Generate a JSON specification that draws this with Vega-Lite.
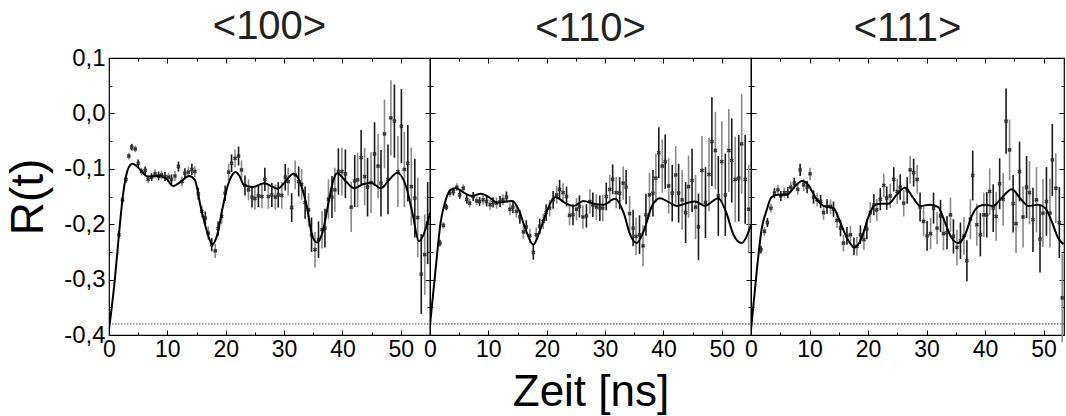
{
"$schema": "https://vega.github.io/schema/vega-lite/v6.json",
"padding": {"left": 5, "top": 6, "right": 0, "bottom": 0},
"background": "white",
"config": {
  "font": "Liberation Sans",
  "view": {"stroke": "#000", "strokeWidth": 1.2},
  "title": {"fontSize": 40, "fontWeight": "normal", "color": "#222", "offset": 10, "anchor": "middle"},
  "axis": {"labelColor": "#000", "tickColor": "#000", "tickWidth": 1, "titleColor": "#000", "titleFontWeight": "normal", "grid": false, "domain": false, "ticks": true, "labelOverlap": false, "labelFlush": false, "labelBound": false, "labelFontSize": 23}
},
"datasets": {
"ref": [{"p": 0, "r": -0.38}],
"pts": [
{"p":1,"t":1.7,"r":-0.219,"e":0.006,"c":0},{"p":1,"t":2.3,"r":-0.156,"e":0.006,"c":1},{"p":1,"t":2.9,"r":-0.119,"e":0.006,"c":0},{"p":1,"t":3.4,"r":-0.077,"e":0.006,"c":1},{"p":1,"t":3.9,"r":-0.061,"e":0.006,"c":0},{"p":1,"t":4.5,"r":-0.064,"e":0.006,"c":1},{"p":1,"t":5.0,"r":-0.090,"e":0.007,"c":0},{"p":1,"t":5.6,"r":-0.105,"e":0.007,"c":1},{"p":1,"t":6.2,"r":-0.103,"e":0.007,"c":0},{"p":1,"t":6.7,"r":-0.119,"e":0.007,"c":1},{"p":1,"t":7.3,"r":-0.115,"e":0.007,"c":0},{"p":1,"t":7.9,"r":-0.109,"e":0.008,"c":1},{"p":1,"t":8.5,"r":-0.113,"e":0.008,"c":0},{"p":1,"t":9.0,"r":-0.111,"e":0.008,"c":1},{"p":1,"t":9.6,"r":-0.114,"e":0.008,"c":0},{"p":1,"t":10.2,"r":-0.115,"e":0.008,"c":1},{"p":1,"t":10.7,"r":-0.119,"e":0.009,"c":0},{"p":1,"t":11.3,"r":-0.113,"e":0.009,"c":1},{"p":1,"t":11.9,"r":-0.096,"e":0.009,"c":0},{"p":1,"t":12.5,"r":-0.123,"e":0.009,"c":1},{"p":1,"t":13.0,"r":-0.108,"e":0.009,"c":0},{"p":1,"t":13.6,"r":-0.106,"e":0.010,"c":1},{"p":1,"t":14.2,"r":-0.101,"e":0.010,"c":0},{"p":1,"t":14.7,"r":-0.105,"e":0.010,"c":1},{"p":1,"t":15.3,"r":-0.145,"e":0.011,"c":0},{"p":1,"t":15.9,"r":-0.177,"e":0.011,"c":1},{"p":1,"t":16.5,"r":-0.189,"e":0.012,"c":0},{"p":1,"t":17.0,"r":-0.216,"e":0.012,"c":1},{"p":1,"t":17.6,"r":-0.237,"e":0.012,"c":0},{"p":1,"t":18.2,"r":-0.248,"e":0.013,"c":1},{"p":1,"t":18.7,"r":-0.208,"e":0.013,"c":0},{"p":1,"t":19.3,"r":-0.186,"e":0.014,"c":1},{"p":1,"t":19.9,"r":-0.144,"e":0.014,"c":0},{"p":1,"t":20.5,"r":-0.106,"e":0.015,"c":1},{"p":1,"t":21.0,"r":-0.090,"e":0.016,"c":0},{"p":1,"t":21.6,"r":-0.081,"e":0.016,"c":1},{"p":1,"t":22.2,"r":-0.077,"e":0.017,"c":0},{"p":1,"t":22.7,"r":-0.102,"e":0.017,"c":1},{"p":1,"t":23.3,"r":-0.130,"e":0.018,"c":0},{"p":1,"t":23.9,"r":-0.138,"e":0.019,"c":1},{"p":1,"t":24.5,"r":-0.151,"e":0.019,"c":0},{"p":1,"t":25.0,"r":-0.154,"e":0.020,"c":1},{"p":1,"t":25.6,"r":-0.149,"e":0.020,"c":0},{"p":1,"t":26.2,"r":-0.150,"e":0.021,"c":1},{"p":1,"t":26.7,"r":-0.119,"e":0.021,"c":0},{"p":1,"t":27.3,"r":-0.150,"e":0.022,"c":1},{"p":1,"t":27.9,"r":-0.147,"e":0.022,"c":0},{"p":1,"t":28.5,"r":-0.151,"e":0.023,"c":1},{"p":1,"t":29.0,"r":-0.147,"e":0.023,"c":0},{"p":1,"t":29.6,"r":-0.148,"e":0.024,"c":1},{"p":1,"t":30.2,"r":-0.115,"e":0.024,"c":0},{"p":1,"t":30.7,"r":-0.123,"e":0.025,"c":1},{"p":1,"t":31.3,"r":-0.170,"e":0.026,"c":0},{"p":1,"t":31.9,"r":-0.111,"e":0.026,"c":1},{"p":1,"t":32.5,"r":-0.123,"e":0.027,"c":0},{"p":1,"t":33.0,"r":-0.128,"e":0.028,"c":1},{"p":1,"t":33.6,"r":-0.161,"e":0.029,"c":0},{"p":1,"t":34.2,"r":-0.174,"e":0.030,"c":1},{"p":1,"t":34.7,"r":-0.219,"e":0.031,"c":0},{"p":1,"t":35.3,"r":-0.246,"e":0.032,"c":1},{"p":1,"t":35.9,"r":-0.228,"e":0.033,"c":0},{"p":1,"t":36.5,"r":-0.210,"e":0.034,"c":1},{"p":1,"t":37.0,"r":-0.207,"e":0.035,"c":0},{"p":1,"t":37.6,"r":-0.155,"e":0.036,"c":1},{"p":1,"t":38.2,"r":-0.151,"e":0.038,"c":0},{"p":1,"t":38.7,"r":-0.138,"e":0.040,"c":1},{"p":1,"t":39.3,"r":-0.105,"e":0.042,"c":0},{"p":1,"t":39.9,"r":-0.105,"e":0.043,"c":1},{"p":1,"t":40.5,"r":-0.109,"e":0.044,"c":0},{"p":1,"t":41.5,"r":-0.169,"e":0.045,"c":1},{"p":1,"t":42.1,"r":-0.122,"e":0.047,"c":0},{"p":1,"t":42.6,"r":-0.120,"e":0.049,"c":1},{"p":1,"t":43.2,"r":-0.080,"e":0.050,"c":0},{"p":1,"t":43.8,"r":-0.114,"e":0.052,"c":1},{"p":1,"t":44.3,"r":-0.133,"e":0.053,"c":0},{"p":1,"t":44.9,"r":-0.125,"e":0.055,"c":1},{"p":1,"t":45.5,"r":-0.073,"e":0.057,"c":0},{"p":1,"t":46.1,"r":-0.095,"e":0.058,"c":1},{"p":1,"t":46.6,"r":-0.126,"e":0.060,"c":0},{"p":1,"t":47.2,"r":-0.037,"e":0.062,"c":1},{"p":1,"t":47.8,"r":-0.119,"e":0.063,"c":0},{"p":1,"t":48.3,"r":-0.008,"e":0.068,"c":1},{"p":1,"t":48.9,"r":-0.014,"e":0.066,"c":0},{"p":1,"t":49.5,"r":-0.105,"e":0.064,"c":1},{"p":1,"t":50.1,"r":-0.023,"e":0.067,"c":0},{"p":1,"t":50.6,"r":-0.101,"e":0.068,"c":1},{"p":1,"t":51.2,"r":-0.090,"e":0.069,"c":0},{"p":1,"t":51.8,"r":-0.132,"e":0.070,"c":1},{"p":1,"t":52.4,"r":-0.153,"e":0.071,"c":0},{"p":1,"t":52.9,"r":-0.188,"e":0.072,"c":1},{"p":1,"t":53.5,"r":-0.290,"e":0.072,"c":0},{"p":1,"t":54.1,"r":-0.255,"e":0.073,"c":1},{"p":1,"t":54.6,"r":-0.198,"e":0.074,"c":0},
{"p":2,"t":1.7,"r":-0.234,"e":0.006,"c":0},{"p":2,"t":2.3,"r":-0.202,"e":0.006,"c":1},{"p":2,"t":2.8,"r":-0.169,"e":0.006,"c":0},{"p":2,"t":3.4,"r":-0.144,"e":0.007,"c":1},{"p":2,"t":4.0,"r":-0.141,"e":0.007,"c":0},{"p":2,"t":4.6,"r":-0.133,"e":0.007,"c":1},{"p":2,"t":5.1,"r":-0.147,"e":0.007,"c":0},{"p":2,"t":5.7,"r":-0.135,"e":0.007,"c":1},{"p":2,"t":6.3,"r":-0.155,"e":0.008,"c":0},{"p":2,"t":6.8,"r":-0.162,"e":0.008,"c":1},{"p":2,"t":7.4,"r":-0.150,"e":0.008,"c":0},{"p":2,"t":8.0,"r":-0.158,"e":0.008,"c":1},{"p":2,"t":8.5,"r":-0.159,"e":0.008,"c":0},{"p":2,"t":9.1,"r":-0.156,"e":0.009,"c":1},{"p":2,"t":9.7,"r":-0.159,"e":0.009,"c":0},{"p":2,"t":10.3,"r":-0.165,"e":0.009,"c":1},{"p":2,"t":10.8,"r":-0.161,"e":0.009,"c":0},{"p":2,"t":11.4,"r":-0.162,"e":0.010,"c":1},{"p":2,"t":12.0,"r":-0.159,"e":0.010,"c":0},{"p":2,"t":12.5,"r":-0.156,"e":0.010,"c":1},{"p":2,"t":13.1,"r":-0.151,"e":0.010,"c":0},{"p":2,"t":13.7,"r":-0.173,"e":0.011,"c":1},{"p":2,"t":14.2,"r":-0.169,"e":0.011,"c":0},{"p":2,"t":14.8,"r":-0.177,"e":0.011,"c":1},{"p":2,"t":15.4,"r":-0.187,"e":0.012,"c":0},{"p":2,"t":16.0,"r":-0.214,"e":0.012,"c":1},{"p":2,"t":16.5,"r":-0.205,"e":0.012,"c":0},{"p":2,"t":17.1,"r":-0.221,"e":0.013,"c":1},{"p":2,"t":17.7,"r":-0.251,"e":0.013,"c":0},{"p":2,"t":18.2,"r":-0.219,"e":0.013,"c":1},{"p":2,"t":18.8,"r":-0.204,"e":0.014,"c":0},{"p":2,"t":19.4,"r":-0.195,"e":0.014,"c":1},{"p":2,"t":19.9,"r":-0.179,"e":0.015,"c":0},{"p":2,"t":20.5,"r":-0.171,"e":0.015,"c":1},{"p":2,"t":21.1,"r":-0.156,"e":0.016,"c":0},{"p":2,"t":21.7,"r":-0.147,"e":0.016,"c":1},{"p":2,"t":22.2,"r":-0.137,"e":0.017,"c":0},{"p":2,"t":22.8,"r":-0.143,"e":0.017,"c":1},{"p":2,"t":23.4,"r":-0.150,"e":0.018,"c":0},{"p":2,"t":23.9,"r":-0.184,"e":0.018,"c":1},{"p":2,"t":24.5,"r":-0.183,"e":0.019,"c":0},{"p":2,"t":25.1,"r":-0.173,"e":0.020,"c":1},{"p":2,"t":25.6,"r":-0.168,"e":0.020,"c":0},{"p":2,"t":26.2,"r":-0.187,"e":0.021,"c":1},{"p":2,"t":26.8,"r":-0.185,"e":0.021,"c":0},{"p":2,"t":27.4,"r":-0.159,"e":0.022,"c":1},{"p":2,"t":27.9,"r":-0.165,"e":0.022,"c":0},{"p":2,"t":28.5,"r":-0.169,"e":0.023,"c":1},{"p":2,"t":29.1,"r":-0.171,"e":0.023,"c":0},{"p":2,"t":29.6,"r":-0.171,"e":0.024,"c":1},{"p":2,"t":30.2,"r":-0.150,"e":0.025,"c":0},{"p":2,"t":30.8,"r":-0.137,"e":0.026,"c":1},{"p":2,"t":31.3,"r":-0.119,"e":0.027,"c":0},{"p":2,"t":31.9,"r":-0.143,"e":0.028,"c":1},{"p":2,"t":32.5,"r":-0.144,"e":0.029,"c":0},{"p":2,"t":33.1,"r":-0.126,"e":0.030,"c":1},{"p":2,"t":33.6,"r":-0.133,"e":0.031,"c":0},{"p":2,"t":34.2,"r":-0.181,"e":0.032,"c":1},{"p":2,"t":34.8,"r":-0.207,"e":0.033,"c":0},{"p":2,"t":35.3,"r":-0.222,"e":0.034,"c":1},{"p":2,"t":35.9,"r":-0.219,"e":0.035,"c":0},{"p":2,"t":36.5,"r":-0.239,"e":0.037,"c":1},{"p":2,"t":37.0,"r":-0.183,"e":0.038,"c":0},{"p":2,"t":37.6,"r":-0.147,"e":0.040,"c":1},{"p":2,"t":38.2,"r":-0.144,"e":0.042,"c":0},{"p":2,"t":38.7,"r":-0.117,"e":0.044,"c":1},{"p":2,"t":39.2,"r":-0.071,"e":0.046,"c":0},{"p":2,"t":39.8,"r":-0.095,"e":0.048,"c":1},{"p":2,"t":40.3,"r":-0.087,"e":0.049,"c":0},{"p":2,"t":40.9,"r":-0.131,"e":0.050,"c":1},{"p":2,"t":41.5,"r":-0.144,"e":0.051,"c":0},{"p":2,"t":42.1,"r":-0.111,"e":0.052,"c":1},{"p":2,"t":42.6,"r":-0.144,"e":0.053,"c":0},{"p":2,"t":43.2,"r":-0.156,"e":0.054,"c":1},{"p":2,"t":43.8,"r":-0.179,"e":0.055,"c":0},{"p":2,"t":44.3,"r":-0.132,"e":0.056,"c":1},{"p":2,"t":44.9,"r":-0.121,"e":0.057,"c":0},{"p":2,"t":45.5,"r":-0.169,"e":0.058,"c":1},{"p":2,"t":46.0,"r":-0.205,"e":0.060,"c":0},{"p":2,"t":46.6,"r":-0.103,"e":0.062,"c":1},{"p":2,"t":47.2,"r":-0.161,"e":0.064,"c":0},{"p":2,"t":47.8,"r":-0.110,"e":0.066,"c":1},{"p":2,"t":48.3,"r":-0.051,"e":0.080,"c":0},{"p":2,"t":48.9,"r":-0.067,"e":0.070,"c":1},{"p":2,"t":49.4,"r":-0.149,"e":0.072,"c":0},{"p":2,"t":50.0,"r":-0.087,"e":0.073,"c":1},{"p":2,"t":50.6,"r":-0.147,"e":0.074,"c":0},{"p":2,"t":51.2,"r":-0.067,"e":0.075,"c":1},{"p":2,"t":51.7,"r":-0.085,"e":0.076,"c":0},{"p":2,"t":52.3,"r":-0.119,"e":0.077,"c":1},{"p":2,"t":52.9,"r":-0.117,"e":0.078,"c":0},{"p":2,"t":53.4,"r":-0.055,"e":0.090,"c":1},{"p":2,"t":54.0,"r":-0.119,"e":0.080,"c":0},{"p":2,"t":54.6,"r":-0.173,"e":0.080,"c":1},
{"p":3,"t":1.7,"r":-0.246,"e":0.007,"c":0},{"p":3,"t":2.3,"r":-0.213,"e":0.008,"c":1},{"p":3,"t":2.8,"r":-0.197,"e":0.008,"c":0},{"p":3,"t":3.4,"r":-0.171,"e":0.008,"c":1},{"p":3,"t":4.0,"r":-0.144,"e":0.009,"c":0},{"p":3,"t":4.6,"r":-0.138,"e":0.009,"c":1},{"p":3,"t":5.1,"r":-0.149,"e":0.009,"c":0},{"p":3,"t":5.7,"r":-0.143,"e":0.009,"c":1},{"p":3,"t":6.3,"r":-0.143,"e":0.010,"c":0},{"p":3,"t":6.8,"r":-0.133,"e":0.010,"c":1},{"p":3,"t":7.4,"r":-0.126,"e":0.010,"c":0},{"p":3,"t":8.0,"r":-0.137,"e":0.010,"c":1},{"p":3,"t":8.4,"r":-0.102,"e":0.011,"c":0},{"p":3,"t":9.0,"r":-0.129,"e":0.011,"c":1},{"p":3,"t":9.6,"r":-0.133,"e":0.011,"c":0},{"p":3,"t":10.1,"r":-0.109,"e":0.011,"c":1},{"p":3,"t":10.7,"r":-0.151,"e":0.012,"c":0},{"p":3,"t":11.3,"r":-0.156,"e":0.012,"c":1},{"p":3,"t":11.9,"r":-0.159,"e":0.012,"c":0},{"p":3,"t":12.4,"r":-0.179,"e":0.013,"c":1},{"p":3,"t":13.0,"r":-0.168,"e":0.013,"c":0},{"p":3,"t":13.6,"r":-0.168,"e":0.013,"c":1},{"p":3,"t":14.1,"r":-0.173,"e":0.014,"c":0},{"p":3,"t":14.7,"r":-0.193,"e":0.014,"c":1},{"p":3,"t":15.3,"r":-0.207,"e":0.015,"c":0},{"p":3,"t":15.8,"r":-0.234,"e":0.015,"c":1},{"p":3,"t":16.4,"r":-0.221,"e":0.016,"c":0},{"p":3,"t":17.0,"r":-0.219,"e":0.016,"c":1},{"p":3,"t":17.6,"r":-0.240,"e":0.016,"c":0},{"p":3,"t":18.1,"r":-0.240,"e":0.017,"c":1},{"p":3,"t":18.7,"r":-0.219,"e":0.017,"c":0},{"p":3,"t":19.3,"r":-0.228,"e":0.018,"c":1},{"p":3,"t":19.8,"r":-0.209,"e":0.018,"c":0},{"p":3,"t":20.4,"r":-0.179,"e":0.019,"c":1},{"p":3,"t":21.0,"r":-0.165,"e":0.019,"c":0},{"p":3,"t":21.5,"r":-0.174,"e":0.020,"c":1},{"p":3,"t":22.1,"r":-0.155,"e":0.020,"c":0},{"p":3,"t":22.7,"r":-0.130,"e":0.021,"c":1},{"p":3,"t":23.2,"r":-0.153,"e":0.021,"c":0},{"p":3,"t":23.8,"r":-0.149,"e":0.022,"c":1},{"p":3,"t":24.4,"r":-0.119,"e":0.022,"c":0},{"p":3,"t":25.0,"r":-0.141,"e":0.023,"c":1},{"p":3,"t":25.5,"r":-0.133,"e":0.023,"c":0},{"p":3,"t":26.1,"r":-0.162,"e":0.024,"c":1},{"p":3,"t":26.7,"r":-0.139,"e":0.024,"c":0},{"p":3,"t":27.2,"r":-0.102,"e":0.025,"c":1},{"p":3,"t":27.8,"r":-0.107,"e":0.025,"c":0},{"p":3,"t":28.4,"r":-0.119,"e":0.026,"c":1},{"p":3,"t":28.9,"r":-0.169,"e":0.026,"c":0},{"p":3,"t":29.5,"r":-0.195,"e":0.027,"c":1},{"p":3,"t":30.1,"r":-0.221,"e":0.027,"c":0},{"p":3,"t":30.7,"r":-0.217,"e":0.028,"c":1},{"p":3,"t":31.2,"r":-0.171,"e":0.028,"c":0},{"p":3,"t":31.8,"r":-0.207,"e":0.029,"c":1},{"p":3,"t":32.4,"r":-0.185,"e":0.029,"c":0},{"p":3,"t":32.9,"r":-0.217,"e":0.030,"c":1},{"p":3,"t":33.5,"r":-0.215,"e":0.030,"c":0},{"p":3,"t":34.1,"r":-0.183,"e":0.031,"c":1},{"p":3,"t":34.6,"r":-0.222,"e":0.031,"c":0},{"p":3,"t":35.2,"r":-0.242,"e":0.032,"c":1},{"p":3,"t":35.8,"r":-0.230,"e":0.033,"c":0},{"p":3,"t":36.4,"r":-0.221,"e":0.034,"c":1},{"p":3,"t":36.9,"r":-0.266,"e":0.037,"c":0},{"p":3,"t":37.5,"r":-0.191,"e":0.036,"c":1},{"p":3,"t":37.9,"r":-0.112,"e":0.045,"c":0},{"p":3,"t":38.6,"r":-0.201,"e":0.038,"c":1},{"p":3,"t":39.2,"r":-0.219,"e":0.039,"c":0},{"p":3,"t":39.8,"r":-0.183,"e":0.040,"c":1},{"p":3,"t":40.3,"r":-0.183,"e":0.041,"c":0},{"p":3,"t":40.8,"r":-0.141,"e":0.042,"c":1},{"p":3,"t":41.4,"r":-0.171,"e":0.043,"c":0},{"p":3,"t":41.9,"r":-0.186,"e":0.044,"c":1},{"p":3,"t":42.5,"r":-0.127,"e":0.046,"c":0},{"p":3,"t":43.1,"r":-0.155,"e":0.048,"c":1},{"p":3,"t":43.6,"r":-0.014,"e":0.059,"c":0},{"p":3,"t":44.2,"r":-0.066,"e":0.055,"c":1},{"p":3,"t":44.8,"r":-0.163,"e":0.052,"c":0},{"p":3,"t":45.3,"r":-0.199,"e":0.053,"c":1},{"p":3,"t":45.9,"r":-0.105,"e":0.054,"c":0},{"p":3,"t":46.5,"r":-0.187,"e":0.055,"c":1},{"p":3,"t":47.1,"r":-0.133,"e":0.056,"c":0},{"p":3,"t":47.6,"r":-0.143,"e":0.057,"c":1},{"p":3,"t":48.2,"r":-0.192,"e":0.058,"c":0},{"p":3,"t":48.8,"r":-0.156,"e":0.059,"c":1},{"p":3,"t":49.4,"r":-0.227,"e":0.060,"c":0},{"p":3,"t":49.9,"r":-0.180,"e":0.061,"c":1},{"p":3,"t":50.5,"r":-0.159,"e":0.062,"c":0},{"p":3,"t":51.1,"r":-0.180,"e":0.062,"c":1},{"p":3,"t":51.5,"r":-0.084,"e":0.065,"c":0},{"p":3,"t":52.1,"r":-0.135,"e":0.063,"c":1},{"p":3,"t":52.7,"r":-0.197,"e":0.064,"c":0},{"p":3,"t":53.2,"r":-0.333,"e":0.080,"c":1}
],
"fit": [
{"p":1,"t":0,"r":-0.39},{"p":1,"t":1.0,"r":-0.30},{"p":1,"t":1.7,"r":-0.219},{"p":1,"t":2.3,"r":-0.156},{"p":1,"t":2.9,"r":-0.114},{"p":1,"t":3.4,"r":-0.097},{"p":1,"t":4.0,"r":-0.091},{"p":1,"t":4.6,"r":-0.094},{"p":1,"t":5.4,"r":-0.102},{"p":1,"t":6.6,"r":-0.114},{"p":1,"t":8.3,"r":-0.113},{"p":1,"t":9.7,"r":-0.117},{"p":1,"t":11.0,"r":-0.131},{"p":1,"t":12.3,"r":-0.123},{"p":1,"t":13.7,"r":-0.113},{"p":1,"t":14.7,"r":-0.120},{"p":1,"t":15.7,"r":-0.168},{"p":1,"t":16.7,"r":-0.210},{"p":1,"t":17.7,"r":-0.236},{"p":1,"t":18.6,"r":-0.217},{"p":1,"t":19.4,"r":-0.174},{"p":1,"t":20.3,"r":-0.132},{"p":1,"t":21.0,"r":-0.113},{"p":1,"t":21.7,"r":-0.106},{"p":1,"t":22.4,"r":-0.114},{"p":1,"t":23.1,"r":-0.129},{"p":1,"t":24.6,"r":-0.133},{"p":1,"t":26.6,"r":-0.126},{"p":1,"t":28.9,"r":-0.136},{"p":1,"t":30.0,"r":-0.126},{"p":1,"t":31.6,"r":-0.109},{"p":1,"t":32.9,"r":-0.129},{"p":1,"t":34.0,"r":-0.174},{"p":1,"t":34.7,"r":-0.216},{"p":1,"t":35.6,"r":-0.233},{"p":1,"t":36.6,"r":-0.214},{"p":1,"t":37.7,"r":-0.156},{"p":1,"t":38.4,"r":-0.122},{"p":1,"t":39.1,"r":-0.108},{"p":1,"t":40.6,"r":-0.123},{"p":1,"t":42.0,"r":-0.135},{"p":1,"t":43.5,"r":-0.128},{"p":1,"t":44.9,"r":-0.125},{"p":1,"t":46.6,"r":-0.135},{"p":1,"t":48.0,"r":-0.120},{"p":1,"t":49.4,"r":-0.107},{"p":1,"t":50.9,"r":-0.132},{"p":1,"t":52.0,"r":-0.180},{"p":1,"t":53.1,"r":-0.231},{"p":1,"t":54.0,"r":-0.216},{"p":1,"t":55.0,"r":-0.180},
{"p":2,"t":0,"r":-0.382},{"p":2,"t":1.0,"r":-0.277},{"p":2,"t":1.8,"r":-0.198},{"p":2,"t":2.7,"r":-0.156},{"p":2,"t":3.5,"r":-0.138},{"p":2,"t":4.4,"r":-0.135},{"p":2,"t":5.8,"r":-0.143},{"p":2,"t":7.2,"r":-0.149},{"p":2,"t":8.7,"r":-0.145},{"p":2,"t":10.1,"r":-0.151},{"p":2,"t":11.5,"r":-0.161},{"p":2,"t":12.6,"r":-0.160},{"p":2,"t":14.1,"r":-0.158},{"p":2,"t":15.2,"r":-0.174},{"p":2,"t":16.4,"r":-0.210},{"p":2,"t":17.7,"r":-0.237},{"p":2,"t":18.9,"r":-0.210},{"p":2,"t":20.1,"r":-0.174},{"p":2,"t":21.5,"r":-0.151},{"p":2,"t":22.9,"r":-0.160},{"p":2,"t":24.6,"r":-0.167},{"p":2,"t":26.3,"r":-0.158},{"p":2,"t":28.0,"r":-0.163},{"p":2,"t":29.7,"r":-0.165},{"p":2,"t":31.7,"r":-0.154},{"p":2,"t":33.2,"r":-0.180},{"p":2,"t":34.3,"r":-0.219},{"p":2,"t":35.4,"r":-0.234},{"p":2,"t":36.6,"r":-0.213},{"p":2,"t":38.0,"r":-0.168},{"p":2,"t":39.4,"r":-0.153},{"p":2,"t":40.9,"r":-0.160},{"p":2,"t":42.3,"r":-0.167},{"p":2,"t":44.0,"r":-0.162},{"p":2,"t":45.4,"r":-0.159},{"p":2,"t":47.1,"r":-0.167},{"p":2,"t":49.4,"r":-0.153},{"p":2,"t":50.8,"r":-0.180},{"p":2,"t":52.0,"r":-0.219},{"p":2,"t":53.4,"r":-0.234},{"p":2,"t":54.5,"r":-0.216},{"p":2,"t":55.0,"r":-0.201},
{"p":3,"t":0,"r":-0.391},{"p":3,"t":1.0,"r":-0.283},{"p":3,"t":1.8,"r":-0.210},{"p":3,"t":2.7,"r":-0.174},{"p":3,"t":3.5,"r":-0.151},{"p":3,"t":4.7,"r":-0.147},{"p":3,"t":6.1,"r":-0.147},{"p":3,"t":7.5,"r":-0.132},{"p":3,"t":8.7,"r":-0.122},{"p":3,"t":9.8,"r":-0.129},{"p":3,"t":10.9,"r":-0.150},{"p":3,"t":12.4,"r":-0.167},{"p":3,"t":14.1,"r":-0.171},{"p":3,"t":15.2,"r":-0.195},{"p":3,"t":16.4,"r":-0.225},{"p":3,"t":17.7,"r":-0.242},{"p":3,"t":18.9,"r":-0.225},{"p":3,"t":20.1,"r":-0.186},{"p":3,"t":21.2,"r":-0.165},{"p":3,"t":22.3,"r":-0.163},{"p":3,"t":23.5,"r":-0.163},{"p":3,"t":24.9,"r":-0.147},{"p":3,"t":26.3,"r":-0.134},{"p":3,"t":27.7,"r":-0.152},{"p":3,"t":28.9,"r":-0.167},{"p":3,"t":30.6,"r":-0.165},{"p":3,"t":32.0,"r":-0.169},{"p":3,"t":33.2,"r":-0.198},{"p":3,"t":34.3,"r":-0.225},{"p":3,"t":35.4,"r":-0.234},{"p":3,"t":36.6,"r":-0.219},{"p":3,"t":37.7,"r":-0.186},{"p":3,"t":38.9,"r":-0.168},{"p":3,"t":40.0,"r":-0.165},{"p":3,"t":41.4,"r":-0.167},{"p":3,"t":42.8,"r":-0.153},{"p":3,"t":44.6,"r":-0.137},{"p":3,"t":46.0,"r":-0.153},{"p":3,"t":47.4,"r":-0.167},{"p":3,"t":49.1,"r":-0.165},{"p":3,"t":50.3,"r":-0.171},{"p":3,"t":51.4,"r":-0.195},{"p":3,"t":52.5,"r":-0.225},{"p":3,"t":53.4,"r":-0.236}
]
},
"hconcat": [
{
 "width": 321, "height": 277,
 "title": {"text": "<100>", "dy": 11},
 "resolve": {"axis": {"x": "independent", "y": "independent"}},
 "layer": [
  {"data": {"name": "ref"}, "mark": {"type": "rule", "strokeDash": [1.5, 1.5], "color": "#555", "strokeWidth": 1},
   "encoding": {
     "y": {"field": "r", "type": "quantitative", "scale": {"domain": [-0.4, 0.1], "nice": false, "zero": false},
       "axis": {"orient": "left", "values": [-0.4,-0.3,-0.2,-0.1,0,0.1], "tickSize": -5,
         "labelExpr": "replace(replace(format(datum.value, '.1f'), '.', ','), '\u2212', '-')",
         "title": "R(t)", "titleFontSize": 46, "titlePadding": 11, "labelFontSize": 24, "labelPadding": 9}},
     "x": {"datum": 0, "type": "quantitative", "scale": {"domain": [0, 55], "nice": false, "zero": false},
       "axis": {"orient": "bottom", "values": [0,10,20,30,40,50], "tickSize": -5, "labelPadding": 8, "title": null}},
     "x2": {"datum": 55}}},
  {"data": {"name": "pts"}, "transform": [{"filter": "datum.p == 1"}],
   "mark": {"type": "errorbar", "ticks": false, "rule": {"strokeWidth": 1.6}},
   "encoding": {
     "x": {"field": "t", "type": "quantitative", "axis": {"orient": "top", "values": [0,10,20,30,40,50], "tickSize": -5, "labels": false, "title": null}},
     "y": {"field": "r", "type": "quantitative", "axis": {"orient": "right", "values": [-0.4,-0.3,-0.2,-0.1,0,0.1], "tickSize": -5, "labels": false, "title": null}},
     "yError": {"field": "e"},
     "color": {"field": "c", "type": "nominal", "scale": {"domain": [0, 1], "range": ["#1a1a1a", "#8a8a8a"]}, "legend": null}}},
  {"data": {"name": "pts"}, "transform": [{"filter": "datum.p == 1"}],
   "mark": {"type": "point", "shape": "cross", "angle": 45, "filled": true, "size": 18, "color": "#333", "opacity": 1},
   "encoding": {
     "x": {"field": "t", "type": "quantitative", "axis": {"orient": "top", "values": [5,15,25,35,45,55], "tickSize": -3, "labels": false, "title": null}},
     "y": {"field": "r", "type": "quantitative", "axis": {"orient": "right", "values": [-0.35,-0.25,-0.15,-0.05,0.05], "tickSize": -3, "labels": false, "title": null}}}},
  {"data": {"name": "fit"}, "transform": [{"filter": "datum.p == 1"}],
   "mark": {"type": "line", "color": "#000", "strokeWidth": 2, "interpolate": "monotone", "clip": true},
   "encoding": {
     "x": {"field": "t", "type": "quantitative", "axis": {"orient": "bottom", "values": [5,15,25,35,45,55], "tickSize": -3, "labels": false, "title": null}},
     "y": {"field": "r", "type": "quantitative", "axis": {"orient": "left", "values": [-0.35,-0.25,-0.15,-0.05,0.05], "tickSize": -3, "labels": false, "title": null}}}}
 ]
},
{
 "width": 321, "height": 277,
 "title": {"text": "<110>", "dy": 1},
 "resolve": {"axis": {"x": "independent", "y": "independent"}},
 "layer": [
  {"data": {"name": "ref"}, "mark": {"type": "rule", "strokeDash": [1.5, 1.5], "color": "#222", "strokeWidth": 1},
   "encoding": {
     "y": {"field": "r", "type": "quantitative", "scale": {"domain": [-0.4, 0.1], "nice": false, "zero": false},
       "axis": {"orient": "left", "values": [-0.4,-0.3,-0.2,-0.1,0,0.1], "tickSize": -5, "labels": false, "title": null}},
     "x": {"datum": 0, "type": "quantitative", "scale": {"domain": [0, 55], "nice": false, "zero": false},
       "axis": {"orient": "bottom", "values": [0,10,20,30,40,50], "tickSize": -5, "labelPadding": 8, "title": "Zeit [ns]", "titleFontSize": 44, "titlePadding": 9}},
     "x2": {"datum": 55}}},
  {"data": {"name": "pts"}, "transform": [{"filter": "datum.p == 2"}],
   "mark": {"type": "errorbar", "ticks": false, "rule": {"strokeWidth": 1.6}},
   "encoding": {
     "x": {"field": "t", "type": "quantitative", "axis": {"orient": "top", "values": [0,10,20,30,40,50], "tickSize": -5, "labels": false, "title": null}},
     "y": {"field": "r", "type": "quantitative", "axis": {"orient": "right", "values": [-0.4,-0.3,-0.2,-0.1,0,0.1], "tickSize": -5, "labels": false, "title": null}},
     "yError": {"field": "e"},
     "color": {"field": "c", "type": "nominal", "scale": {"domain": [0, 1], "range": ["#1a1a1a", "#8a8a8a"]}, "legend": null}}},
  {"data": {"name": "pts"}, "transform": [{"filter": "datum.p == 2"}],
   "mark": {"type": "point", "shape": "cross", "angle": 45, "filled": true, "size": 18, "color": "#333", "opacity": 1},
   "encoding": {
     "x": {"field": "t", "type": "quantitative", "axis": {"orient": "top", "values": [5,15,25,35,45,55], "tickSize": -3, "labels": false, "title": null}},
     "y": {"field": "r", "type": "quantitative", "axis": {"orient": "right", "values": [-0.35,-0.25,-0.15,-0.05,0.05], "tickSize": -3, "labels": false, "title": null}}}},
  {"data": {"name": "fit"}, "transform": [{"filter": "datum.p == 2"}],
   "mark": {"type": "line", "color": "#000", "strokeWidth": 2, "interpolate": "monotone", "clip": true},
   "encoding": {
     "x": {"field": "t", "type": "quantitative", "axis": {"orient": "bottom", "values": [5,15,25,35,45,55], "tickSize": -3, "labels": false, "title": null}},
     "y": {"field": "r", "type": "quantitative", "axis": {"orient": "left", "values": [-0.35,-0.25,-0.15,-0.05,0.05], "tickSize": -3, "labels": false, "title": null}}}}
 ]
},
{
 "width": 313, "height": 277,
 "title": {"text": "<111>", "dy": 1},
 "resolve": {"axis": {"x": "independent", "y": "independent"}},
 "layer": [
  {"data": {"name": "ref"}, "mark": {"type": "rule", "strokeDash": [1.5, 1.5], "color": "#222", "strokeWidth": 1},
   "encoding": {
     "y": {"field": "r", "type": "quantitative", "scale": {"domain": [-0.4, 0.1], "nice": false, "zero": false},
       "axis": {"orient": "left", "values": [-0.4,-0.3,-0.2,-0.1,0,0.1], "tickSize": -5, "labels": false, "title": null}},
     "x": {"datum": 0, "type": "quantitative", "scale": {"domain": [0, 53.5], "nice": false, "zero": false},
       "axis": {"orient": "bottom", "values": [0,10,20,30,40,50], "tickSize": -5, "labelPadding": 8, "title": null}},
     "x2": {"datum": 53.5}}},
  {"data": {"name": "pts"}, "transform": [{"filter": "datum.p == 3"}],
   "mark": {"type": "errorbar", "ticks": false, "rule": {"strokeWidth": 1.6}},
   "encoding": {
     "x": {"field": "t", "type": "quantitative", "axis": {"orient": "top", "values": [0,10,20,30,40,50], "tickSize": -5, "labels": false, "title": null}},
     "y": {"field": "r", "type": "quantitative", "axis": {"orient": "right", "values": [-0.4,-0.3,-0.2,-0.1,0,0.1], "tickSize": -5, "labels": false, "title": null}},
     "yError": {"field": "e"},
     "color": {"field": "c", "type": "nominal", "scale": {"domain": [0, 1], "range": ["#1a1a1a", "#8a8a8a"]}, "legend": null}}},
  {"data": {"name": "pts"}, "transform": [{"filter": "datum.p == 3"}],
   "mark": {"type": "point", "shape": "cross", "angle": 45, "filled": true, "size": 18, "color": "#333", "opacity": 1},
   "encoding": {
     "x": {"field": "t", "type": "quantitative", "axis": {"orient": "top", "values": [5,15,25,35,45], "tickSize": -3, "labels": false, "title": null}},
     "y": {"field": "r", "type": "quantitative", "axis": {"orient": "right", "values": [-0.35,-0.25,-0.15,-0.05,0.05], "tickSize": -3, "labels": false, "title": null}}}},
  {"data": {"name": "fit"}, "transform": [{"filter": "datum.p == 3"}],
   "mark": {"type": "line", "color": "#000", "strokeWidth": 2, "interpolate": "monotone", "clip": true},
   "encoding": {
     "x": {"field": "t", "type": "quantitative", "axis": {"orient": "bottom", "values": [5,15,25,35,45], "tickSize": -3, "labels": false, "title": null}},
     "y": {"field": "r", "type": "quantitative", "axis": {"orient": "left", "values": [-0.35,-0.25,-0.15,-0.05,0.05], "tickSize": -3, "labels": false, "title": null}}}}
 ]
}
],
"spacing": 0,
"bounds": "flush"
}
